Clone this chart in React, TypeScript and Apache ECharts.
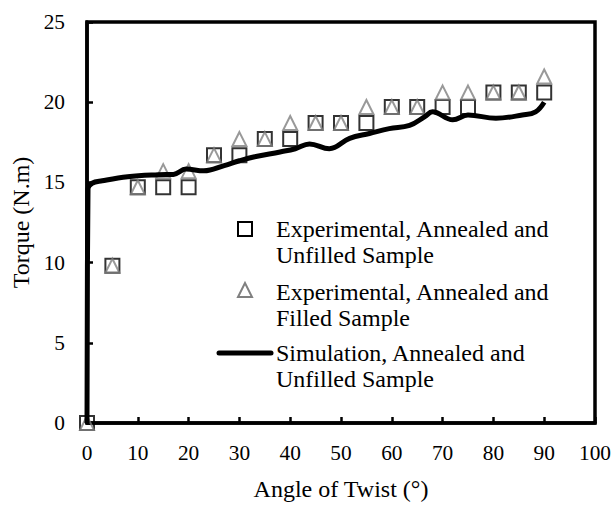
import React, { useEffect, useRef } from "react";
import * as echarts from "echarts";

const angles = [0, 5, 10, 15, 20, 25, 30, 35, 40, 45, 50, 55, 60, 65, 70, 75, 80, 85, 90];
const unfilledTorque = [0, 9.8, 14.7, 14.7, 14.7, 16.7, 16.7, 17.7, 17.7, 18.7, 18.7, 18.7, 19.7, 19.7, 19.7, 19.7, 20.6, 20.6, 20.6];
const filledTorque = [0, 9.8, 14.7, 15.7, 15.7, 16.7, 17.7, 17.7, 18.7, 18.7, 18.7, 19.7, 19.7, 19.7, 20.6, 20.6, 20.6, 20.6, 21.6];

const simAngles = [0, 0.2, 1, 3, 8, 14, 17, 19.5, 23, 27, 30, 33, 38, 41, 43.8, 47.7, 51.7, 55.6, 59.5, 63.5, 66.5, 68, 72, 75, 80.5, 85.7, 88.3, 90];
const simTorque = [0, 14.6, 14.95, 15.1, 15.35, 15.48, 15.5, 15.83, 15.72, 16.05, 16.35, 16.6, 16.9, 17.1, 17.4, 17.1, 17.75, 18.05, 18.35, 18.55, 19.1, 19.4, 18.9, 19.2, 19.0, 19.2, 19.4, 20.0];

const xTicks = { min: 0, max: 100, interval: 10 };
const yTicks = { min: 0, max: 25, interval: 5 };

const legendNames = [
  "Experimental, Annealed and\nUnfilled Sample",
  "Experimental, Annealed and\nFilled Sample",
  "Simulation, Annealed and\nUnfilled Sample",
];

const FONT = "'Liberation Serif', 'Times New Roman', serif";

export default function App() {
  const ref = useRef<HTMLDivElement>(null);
  useEffect(() => {
    if (!ref.current) return;
    const chart = echarts.init(ref.current, undefined, { renderer: "svg" });
    const legendFont = `24px ${FONT}`;
    chart.setOption({
      animation: false,
      backgroundColor: "#fff",
      grid: {
        left: 87,
        right: 20,
        top: 22,
        bottom: 76,
        show: true,
        borderColor: "#000",
        borderWidth: 3.5,
        backgroundColor: "transparent",
      },
      xAxis: {
        type: "value",
        min: xTicks.min,
        max: xTicks.max,
        interval: xTicks.interval,
        name: "Angle of Twist (°)",
        nameLocation: "middle",
        nameGap: 54,
        nameTextStyle: { fontFamily: FONT, fontSize: 24, color: "#000" },
        axisLine: { show: true, lineStyle: { color: "#000", width: 3.5 } },
        axisTick: { show: true, inside: true, length: 6, lineStyle: { color: "#000", width: 2.5 } },
        axisLabel: { fontFamily: FONT, fontSize: 21.33, color: "#000", margin: 19 },
        splitLine: { show: false },
      },
      yAxis: {
        type: "value",
        min: yTicks.min,
        max: yTicks.max,
        interval: yTicks.interval,
        name: "Torque (N.m)",
        nameLocation: "middle",
        nameGap: 48,
        nameTextStyle: { fontFamily: FONT, fontSize: 24, color: "#000" },
        axisLine: { show: true, lineStyle: { color: "#000", width: 3.5 } },
        axisTick: { show: true, inside: true, length: 6, lineStyle: { color: "#000", width: 2.5 } },
        axisLabel: { fontFamily: FONT, fontSize: 21.33, color: "#000", margin: 22 },
        splitLine: { show: false },
      },
      series: [
        {
          name: legendNames[0],
          type: "scatter",
          symbol: "rect",
          symbolSize: 14,
          data: angles.map((a, i) => [a, unfilledTorque[i]]),
          itemStyle: { color: "rgba(0,0,0,0)", borderColor: "#000", borderWidth: 2 },
          z: 2,
        },
        {
          name: legendNames[1],
          type: "scatter",
          symbol: "triangle",
          symbolSize: 14,
          data: angles.map((a, i) => [a, filledTorque[i]]),
          itemStyle: { color: "rgba(0,0,0,0)", borderColor: "#808080", borderWidth: 2 },
          z: 3,
        },
        {
          name: legendNames[2],
          type: "line",
          smooth: 0.4,
          symbol: "none",
          data: simAngles.map((a, i) => [a, simTorque[i]]),
          lineStyle: { color: "#000", width: 5 },
          z: 4,
        },
      ],
      graphic: [
        {
          type: "rect",
          shape: { x: 238, y: 222, width: 14, height: 14 },
          style: { fill: "none", stroke: "#000", lineWidth: 2 },
        },
        {
          type: "polygon",
          shape: { points: [[245, 283], [238, 297], [252, 297]] },
          style: { fill: "none", stroke: "#808080", lineWidth: 2 },
        },
        {
          type: "line",
          shape: { x1: 219, y1: 353, x2: 271, y2: 353 },
          style: { stroke: "#000", lineWidth: 5, lineCap: "round" },
        },
        {
          type: "text",
          x: 276,
          y: 216,
          style: { text: legendNames[0], font: legendFont, lineHeight: 26, verticalAlign: "top", fill: "#000" },
        },
        {
          type: "text",
          x: 276,
          y: 279,
          style: { text: legendNames[1], font: legendFont, lineHeight: 26, verticalAlign: "top", fill: "#000" },
        },
        {
          type: "text",
          x: 276,
          y: 340,
          style: { text: legendNames[2], font: legendFont, lineHeight: 26, verticalAlign: "top", fill: "#000" },
        },
      ],
    });
    return () => chart.dispose();
  }, []);
  return (
    <div
      ref={ref}
      style={{ position: "fixed", left: 0, top: 0, width: 615, height: 506, background: "#fff" }}
    />
  );
}
